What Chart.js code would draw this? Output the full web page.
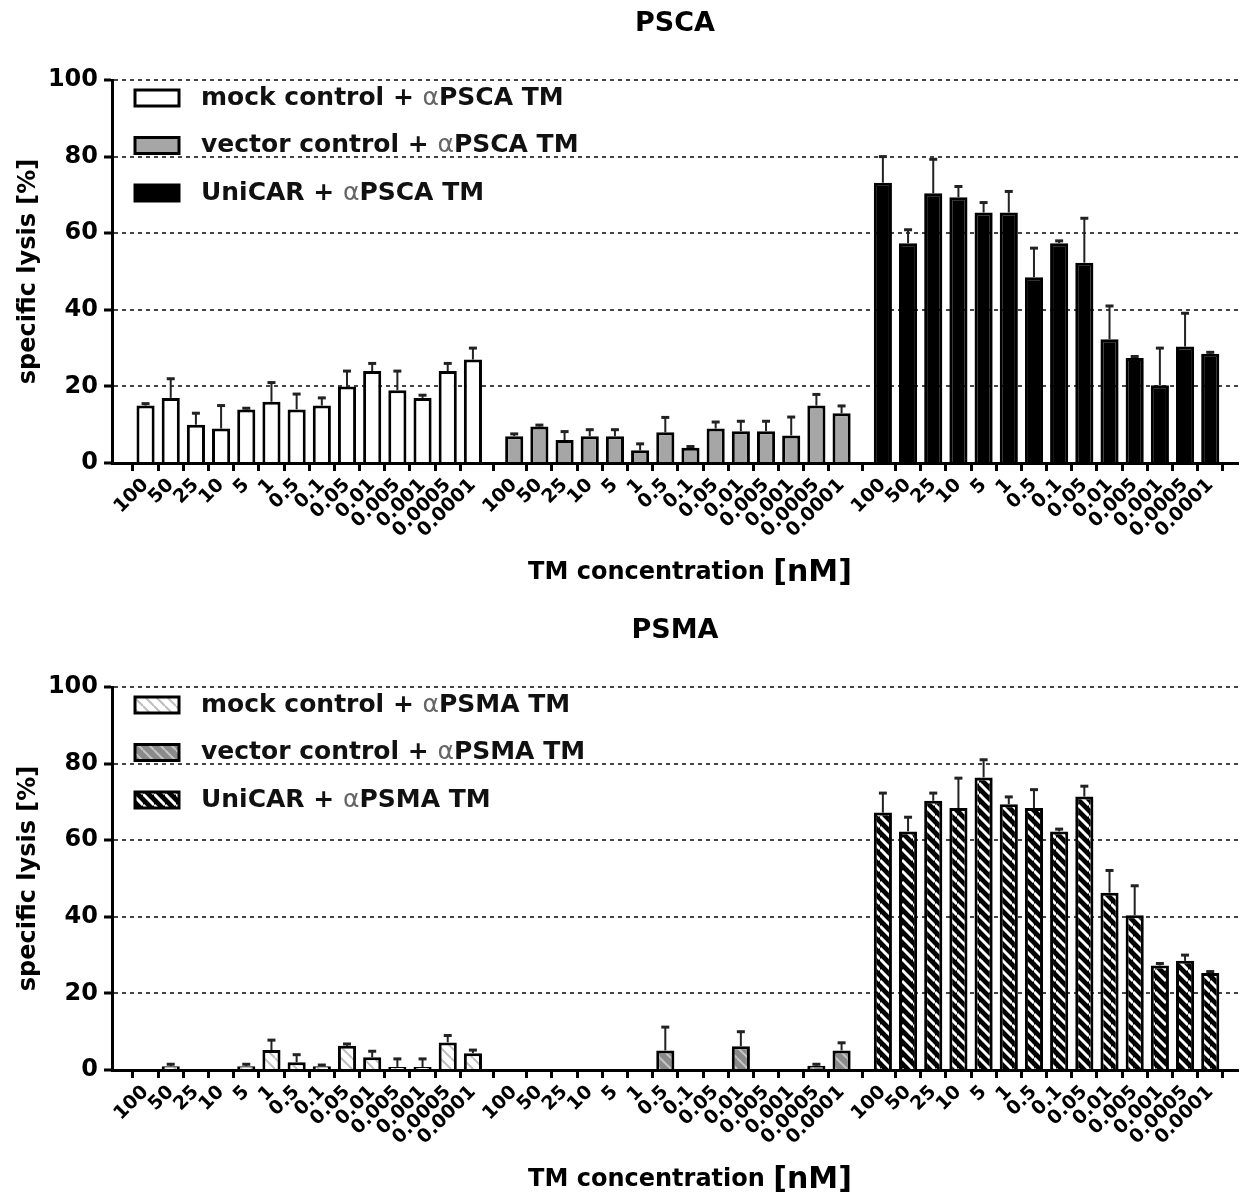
<!DOCTYPE html>
<html>
<head>
<meta charset="utf-8">
<script src="https://cdn.jsdelivr.net/npm/chart.js@4.4.1/dist/chart.umd.min.js"></script>
<style>
  body { margin: 0; background: #fff; }
  canvas { display: block; }
</style>
</head>
<body>
<canvas id="psca" width="1241" height="607"></canvas>
<canvas id="psma" width="1241" height="585"></canvas>
<script>
const conc = ['100', '50', '25', '10', '5', '1', '0.5', '0.1', '0.05', '0.01', '0.005', '0.001', '0.0005', '0.0001']
const yTicks = [0, 20, 40, 60, 80, 100]

// PSCA panel (mean, sd)
const mockPSCA = [15, 17, 10, 9, 14, 16, 14, 15, 20, 24, 19, 17, 24, 27]
const mockPSCAsd = [0.5, 5, 3, 6, 0.3, 5, 4, 2, 4, 2, 5, 0.7, 2, 3]
const vectorPSCA = [7, 9.5, 6, 7, 7, 3.3, 8, 4, 9, 8.3, 8.3, 7.2, 15, 13]
const vectorPSCAsd = [0.6, 0.4, 2.2, 1.7, 1.7, 1.7, 3.9, 0.3, 1.7, 2.6, 2.6, 4.8, 2.9, 1.9]
const unicarPSCA = [73.2, 57.4, 70.4, 69.4, 65.4, 65.4, 48.5, 57.4, 52.3, 32.3, 27.4, 20.3, 30.4, 28.5]
const unicarPSCAsd = [6.8, 3.5, 8.9, 2.8, 2.6, 5.5, 7.6, 0.6, 11.6, 8.7, 0.4, 9.7, 8.7, 0.4]

// PSMA panel (mean, sd)
const mockPSMA = [0, 1, 0, 0, 1, 5.2, 2, 1, 6.3, 3.3, 0.8, 0.8, 7.2, 4.4]
const mockPSMAsd = [0, 0.5, 0, 0, 0.5, 2.6, 2, 0.3, 0.5, 1.6, 2.1, 2.1, 1.8, 0.8]
const vectorPSMA = [0, 0, 0, 0, 0, 0, 5.1, 0, 0, 6.2, 0, 0, 1.1, 5.1]
const vectorPSMAsd = [0, 0, 0, 0, 0, 0, 6.1, 0, 0, 3.8, 0, 0, 0.4, 2.0]
const unicarPSMA = [67.2, 62.3, 70.3, 68.4, 76.4, 69.4, 68.4, 62.3, 71.4, 46.3, 40.4, 27.3, 28.5, 25.3]
const unicarPSMAsd = [5.1, 3.7, 2, 7.8, 4.6, 1.9, 4.8, 0.6, 2.7, 5.8, 7.7, 0.5, 1.5, 0.4]

Chart.defaults.font.family = '"DejaVu Sans", sans-serif'
Chart.defaults.color = '#000'

// groups sit a bit more than one slot apart
const GROUP_STEP = 14.64
const xPos = g => conc.map((c, i) => g * GROUP_STEP + i)
const allPos = [0, 1, 2].flatMap(xPos)
const pts = (vals, g) => vals.map((v, i) => ({x: xPos(g)[i], y: v}))

function stripes(canvasId, bg, fg, w) {
  const s = 11
  const c = document.createElement('canvas')
  c.width = s; c.height = s
  const g = c.getContext('2d')
  g.fillStyle = bg
  g.fillRect(0, 0, s, s)
  g.strokeStyle = fg
  g.lineWidth = w
  for (const k of [-s, 0, s]) {
    g.beginPath(); g.moveTo(0, k); g.lineTo(s, s + k); g.stroke()
  }
  return document.getElementById(canvasId).getContext('2d').createPattern(c, 'repeat')
}

const errorBars = {
  id: 'errorBars',
  afterDatasetsDraw(chart) {
    const ctx = chart.ctx
    const yScale = chart.scales.y
    chart.data.datasets.forEach((ds, d) => {
      chart.getDatasetMeta(d).data.forEach((bar, i) => {
        const sd = ds.errors[i]
        if (!sd) return
        const top = yScale.getPixelForValue(ds.data[i].y + sd)
        ctx.save()
        ctx.strokeStyle = '#222'
        ctx.lineWidth = 2
        ctx.beginPath(); ctx.moveTo(bar.x, bar.y); ctx.lineTo(bar.x, top); ctx.stroke()
        ctx.lineWidth = 3
        ctx.beginPath(); ctx.moveTo(bar.x - 4, top); ctx.lineTo(bar.x + 4, top); ctx.stroke()
        ctx.restore()
      })
    })
  }
}

const boxLegend = {
  id: 'boxLegend',
  afterDraw(chart) {
    const ctx = chart.ctx, a = chart.chartArea
    chart.data.datasets.forEach((ds, i) => {
      const cy = a.top + 18 + i * 47.5
      const bx = a.left + 23
      ctx.save()
      ctx.fillStyle = ds.backgroundColor
      ctx.fillRect(bx, cy - 8, 44, 16)
      ctx.lineWidth = 3
      ctx.strokeStyle = '#000'
      ctx.strokeRect(bx, cy - 8, 44, 16)
      const [pre, post] = ds.label.split('α')
      ctx.textBaseline = 'middle'
      let tx = bx + 66
      ctx.font = 'bold 25px "DejaVu Sans"'; ctx.fillStyle = '#111'
      ctx.fillText(pre, tx, cy); tx += ctx.measureText(pre).width
      ctx.font = '25px "DejaVu Sans"'; ctx.fillStyle = '#666'
      ctx.fillText('α', tx, cy); tx += ctx.measureText('α').width
      ctx.font = 'bold 25px "DejaVu Sans"'; ctx.fillStyle = '#111'
      ctx.fillText(post, tx, cy)
      ctx.restore()
    })
  }
}

const xTitle = {
  id: 'xTitle',
  afterDraw(chart) {
    const ctx = chart.ctx, a = chart.chartArea
    const main = 'TM concentration ', unit = '[nM]'
    ctx.save()
    ctx.fillStyle = '#000'
    ctx.font = 'bold 24px "DejaVu Sans"'
    const w1 = ctx.measureText(main).width
    ctx.font = 'bold 30px "DejaVu Sans"'
    const w2 = ctx.measureText(unit).width
    const x = (a.left + a.right) / 2 + 15 - (w1 + w2) / 2
    const y = a.bottom + 116
    ctx.font = 'bold 24px "DejaVu Sans"'
    ctx.fillText(main, x, y)
    ctx.font = 'bold 30px "DejaVu Sans"'
    ctx.fillText(unit, x + w1, y + 2)
    ctx.restore()
  }
}

function makeChart(id, title, datasets) {
  return new Chart(document.getElementById(id), {
    type: 'bar',
    data: {datasets},
    options: {
      responsive: false,
      animation: false,
      layout: {padding: {right: 3}},
      datasets: {
        bar: {grouped: false, barPercentage: 0.72, categoryPercentage: 1, borderWidth: 3, borderColor: '#000'}
      },
      plugins: {
        legend: {display: false},
        tooltip: {enabled: false},
        title: {
          display: true, text: title, fullSize: false, color: '#000',
          font: {size: 27, weight: 'bold'}, padding: {top: 8, bottom: 39.6}
        }
      },
      scales: {
        x: {
          type: 'linear', min: -0.8, max: 42.85, bounds: 'data',
          afterBuildTicks: s => { s.ticks = allPos.map(v => ({value: v})) },
          afterFit: s => { s.height = s.chart.height - 463 },
          ticks: {
            autoSkip: false, maxRotation: 45, minRotation: 45, padding: 3,
            color: '#000', font: {size: 19, weight: 'bold'},
            callback: (v, i) => conc[i % conc.length]
          },
          grid: {drawOnChartArea: false, tickLength: 8, tickColor: '#000', tickWidth: 3},
          border: {color: '#000', width: 3}
        },
        y: {
          min: 0, max: 100,
          afterBuildTicks: s => { s.ticks = yTicks.map(v => ({value: v})) },
          afterFit: s => { s.width = 112 },
          ticks: {color: '#000', font: {size: 24, weight: 'bold'}, padding: 6},
          grid: {
            color: c => (c.tick && c.tick.value === 0) ? 'rgba(0,0,0,0)' : '#444',
            lineWidth: 2, tickColor: '#000', tickWidth: 3, tickLength: 8, tickBorderDash: []
          },
          border: {color: '#000', width: 3, dash: [4, 4]},
          title: {
            display: true, text: 'specific lysis [%]', color: '#000',
            font: {size: 24, weight: 'bold'}, padding: {top: 14, bottom: 0}
          }
        }
      }
    },
    plugins: [errorBars, boxLegend, xTitle]
  })
}

makeChart('psca', 'PSCA', [
  {label: 'mock control + αPSCA TM', data: pts(mockPSCA, 0), errors: mockPSCAsd, backgroundColor: '#ffffff'},
  {label: 'vector control + αPSCA TM', data: pts(vectorPSCA, 1), errors: vectorPSCAsd, backgroundColor: '#a6a6a6'},
  {label: 'UniCAR + αPSCA TM', data: pts(unicarPSCA, 2), errors: unicarPSCAsd, backgroundColor: '#000000'}
])

makeChart('psma', 'PSMA', [
  {label: 'mock control + αPSMA TM', data: pts(mockPSMA, 0), errors: mockPSMAsd, backgroundColor: stripes('psma', '#ffffff', '#bdbdbd', 2)},
  {label: 'vector control + αPSMA TM', data: pts(vectorPSMA, 1), errors: vectorPSMAsd, backgroundColor: stripes('psma', '#8a8a8a', '#c4c4c4', 2)},
  {label: 'UniCAR + αPSMA TM', data: pts(unicarPSMA, 2), errors: unicarPSMAsd, backgroundColor: stripes('psma', '#000000', '#ffffff', 3)}
])
</script>
</body>
</html>
